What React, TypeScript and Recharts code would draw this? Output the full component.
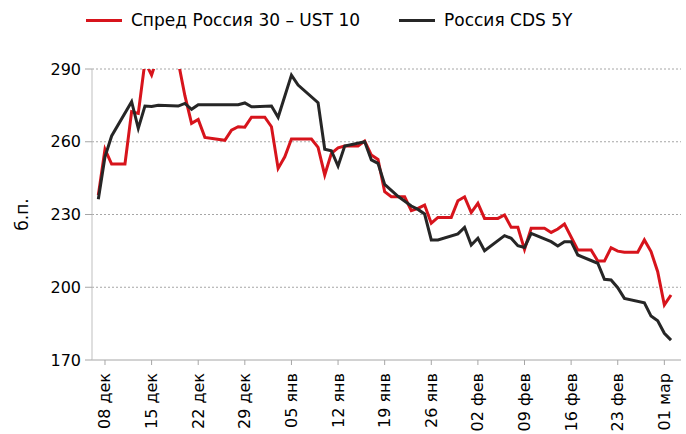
import { CartesianGrid, Line, LineChart, XAxis, YAxis } from "recharts";

// day 0 = first observation (07 dec), weekly tick marks every 7 days
const tickDays = [1, 8, 15, 22, 29, 36, 43, 50, 57, 64, 71, 78, 85];
const tickLabels = [
  "08 дек", "15 дек", "22 дек", "29 дек", "05 янв", "12 янв", "19 янв",
  "26 янв", "02 фев", "09 фев", "16 фев", "23 фев", "01 мар",
];
const yTicks = [170, 200, 230, 260, 290];

const spreadDays = [
  0, 1, 2, 4, 5, 6, 7, 8, 9, 12, 13, 14, 15, 16, 19, 20, 21, 22, 23, 25, 26,
  27, 28, 29, 32, 33, 34, 35, 36, 37, 39, 40, 41, 42, 43, 44, 46, 47, 48, 49,
  50, 51, 53, 54, 55, 56, 57, 58, 60, 61, 62, 63, 64, 65, 67, 68, 69, 70, 72,
  74, 75, 76, 77, 78, 79, 81, 82, 83, 84, 85, 86,
];
const spreadValues = [
  238, 256.9, 250.8, 250.8, 272.4, 271.7, 293, 287.5, 296, 293, 279, 267.6,
  269.2, 261.8, 260.6, 264.8, 266.2, 266, 270.1, 270.1, 266.2, 249, 253.8,
  261.1, 261.1, 257.7, 246.3, 255.2, 257.5, 258.2, 258.2, 260.3, 254.5, 252.7,
  239.4, 237.3, 237.3, 231.6, 232.5, 233.9, 226.4, 228.8, 228.8, 235.7, 237.3,
  230.8, 234.6, 228.4, 228.4, 229.8, 224.7, 224.7, 215.6, 224.3, 224.3, 222.6,
  224, 226.1, 215.4, 215.4, 210.8, 210.8, 216.3, 214.9, 214.4, 214.4, 219.5,
  214.7, 206.4, 192.7, 196.8,
];

const cdsDays = [
  0, 1, 2, 5, 6, 7, 8, 9, 12, 13, 14, 15, 16, 19, 20, 21, 22, 23, 26, 27, 29,
  30, 33, 34, 35, 36, 37, 40, 41, 42, 43, 45, 47, 48, 49, 50, 51, 54, 55, 56,
  57, 58, 61, 62, 63, 64, 65, 68, 69, 70, 71, 72, 75, 76, 77, 78, 79, 82, 83,
  84, 85, 86,
];
const cdsValues = [
  236.3, 253.8, 262.4, 276.5, 265.5, 274.7, 274.5, 275, 274.7, 275.8, 273.4,
  275.3, 275.3, 275.3, 275.3, 275.3, 276, 274.4, 274.7, 270.1, 287.5, 283.4,
  276.1, 256.9, 256.3, 250, 258.2, 260, 252.5, 251.1, 242.4, 237.5, 233.5,
  232.1, 230.2, 219.5, 219.5, 222, 224.7, 217.4, 220.2, 215.1, 221.3, 220.2,
  217.1, 216.4, 222.2, 218.8, 217, 218.8, 218.8, 213.3, 209.9, 203.3, 203,
  199.8, 195.4, 193.6, 188.1, 186.2, 181, 178.2,
];

const spreadData = spreadDays.map((d, i) => ({ day: d, value: spreadValues[i] }));
const cdsData = cdsDays.map((d, i) => ({ day: d, value: cdsValues[i] }));

const RED = "#d7141c";
const BLACK = "#262626";
const FONT = "'DejaVu Sans', sans-serif";

function DateTick({ x, y, payload }: any) {
  const idx = tickDays.indexOf(payload.value);
  return (
    <text
      x={x}
      y={y}
      transform={`rotate(-90, ${x}, ${y})`}
      textAnchor="end"
      dominantBaseline="central"
      fontSize={16}
      fontFamily={FONT}
      fill="#000"
    >
      {tickLabels[idx]}
    </text>
  );
}

function YLabel({ viewBox }: any) {
  const cy = viewBox.y + viewBox.height / 2;
  return (
    <text
      x={22}
      y={cy}
      transform={`rotate(-90, 22, ${cy})`}
      textAnchor="middle"
      dominantBaseline="central"
      fontSize={17}
      fontFamily={FONT}
      fill="#000"
    >
      б.п.
    </text>
  );
}

const legendItems = [
  { name: "Спред Россия 30 – UST 10", color: RED, left: 86 },
  { name: "Россия CDS 5Y", color: BLACK, left: 399 },
];

function ChartLegend() {
  return (
    <>
      {legendItems.map((it) => (
        <div
          key={it.name}
          style={{
            position: "absolute",
            left: it.left,
            top: 9,
            height: 22,
            display: "flex",
            alignItems: "center",
            fontFamily: FONT,
            fontSize: 17,
          }}
        >
          <span
            style={{ display: "inline-block", width: 36, height: 3, background: it.color, marginRight: 9 }}
          />
          <span style={{ color: "#000", whiteSpace: "nowrap" }}>{it.name}</span>
        </div>
      ))}
    </>
  );
}

export default function App() {
  return (
    <div style={{ position: "absolute", left: 0, top: 0, width: 686, height: 434, background: "#fff" }}>
      <LineChart width={686} height={434} margin={{ top: 69, right: 5, left: 0, bottom: 0 }}>
        <CartesianGrid
          horizontal
          vertical={false}
          stroke="#a6a6a6"
          strokeDasharray="2 2"
          horizontalValues={[200, 230, 260, 290]}
        />
        <XAxis
          type="number"
          dataKey="day"
          domain={[-0.95, 87.5]}
          allowDataOverflow
          ticks={tickDays}
          interval={0}
          tick={<DateTick />}
          tickSize={5}
          tickMargin={8}
          height={74}
          axisLine={{ stroke: "#a6a6a6" }}
          tickLine={{ stroke: "#a6a6a6" }}
        />
        <YAxis
          type="number"
          domain={[170, 290]}
          allowDataOverflow
          ticks={yTicks}
          interval={0}
          width={92}
          tickSize={7}
          tickMargin={4}
          tick={{ fontSize: 16, fill: "#000", fontFamily: FONT }}
          axisLine={{ stroke: "#bfbfbf" }}
          tickLine={{ stroke: "#a6a6a6" }}
          label={<YLabel />}
        />
        <Line
          data={spreadData}
          dataKey="value"
          name="Спред Россия 30 – UST 10"
          stroke={RED}
          strokeWidth={3}
          dot={false}
          isAnimationActive={false}
        />
        <Line
          data={cdsData}
          dataKey="value"
          name="Россия CDS 5Y"
          stroke={BLACK}
          strokeWidth={3}
          dot={false}
          isAnimationActive={false}
        />
      </LineChart>
      <ChartLegend />
    </div>
  );
}
